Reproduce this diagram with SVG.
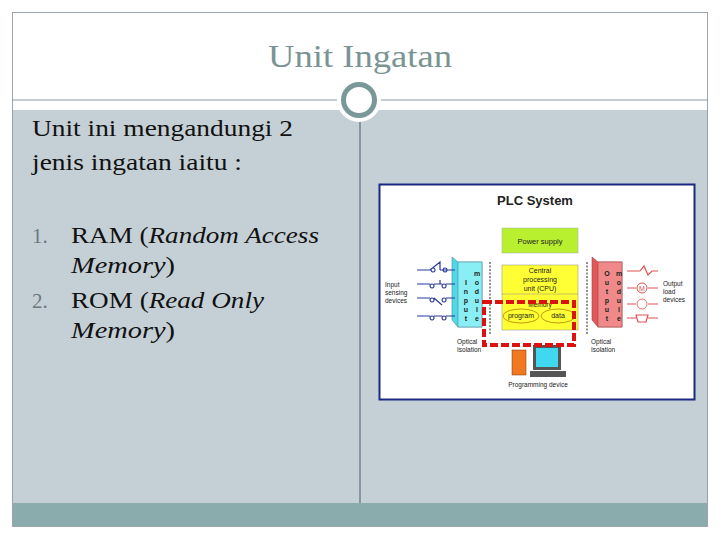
<svg xmlns="http://www.w3.org/2000/svg" width="720" height="540" viewBox="0 0 720 540">
<style>
.s{font-family:"Liberation Serif",serif;fill:#111}
.a{font-family:"Liberation Sans",Arial,sans-serif;fill:#222}
.w{stroke:#2a3a9a;stroke-width:1.2;fill:none}
.r{stroke:#e05050;stroke-width:1.2;fill:none}
</style>
<rect x="0" y="0" width="720" height="540" fill="#fff"/>
<rect x="12" y="110" width="696" height="393" fill="#c5d0d6"/>
<rect x="12" y="503" width="696" height="24" fill="#8aacac"/>
<rect x="12.5" y="12.5" width="695" height="514" fill="none" stroke="#9aa6aa"/>
<line x1="12" y1="100" x2="708" y2="100" stroke="#8a9aa0" stroke-width="1.2"/>
<line x1="360" y1="110" x2="360" y2="503" stroke="#4a5a70"/>
<circle cx="359" cy="100" r="22" fill="#fff"/>
<circle cx="359" cy="100" r="15.5" fill="#fff" stroke="#7a9898" stroke-width="5"/>
<text x="268" y="67" textLength="184" lengthAdjust="spacingAndGlyphs" font-family="Liberation Serif,serif" font-size="32" fill="#7a9494">Unit Ingatan</text>
<g id="text">
<text class="s" x="32" y="136" font-size="23" textLength="261" lengthAdjust="spacingAndGlyphs">Unit ini mengandungi 2</text>
<text class="s" x="32" y="170" font-size="23" textLength="210" lengthAdjust="spacingAndGlyphs">jenis ingatan iaitu :</text>
<text class="s" x="32" y="243" font-size="21" style="fill:#6a7a80">1.</text>
<text class="s" x="71" y="243" font-size="23" textLength="248" lengthAdjust="spacingAndGlyphs">RAM (<tspan font-style="italic">Random Access</tspan></text>
<text class="s" x="71" y="273" font-size="23" font-style="italic" textLength="104" lengthAdjust="spacingAndGlyphs">Memory<tspan font-style="normal">)</tspan></text>
<text class="s" x="32" y="308" font-size="21" style="fill:#6a7a80">2.</text>
<text class="s" x="71" y="308" font-size="23" textLength="193" lengthAdjust="spacingAndGlyphs">ROM (<tspan font-style="italic">Read Only</tspan></text>
<text class="s" x="71" y="338" font-size="23" font-style="italic" textLength="104" lengthAdjust="spacingAndGlyphs">Memory<tspan font-style="normal">)</tspan></text>
</g>
<g id="plc">
<rect x="379.5" y="184.5" width="315" height="215" fill="#fff" stroke="#1a2a80" stroke-width="2"/>
<text class="a" x="535" y="205" font-size="13" font-weight="bold" text-anchor="middle">PLC System</text>
<g id="power"><rect x="502" y="228" width="76" height="25" fill="#b8f030" stroke="#aaa" stroke-width="0.5"/>
<text class="a" x="540" y="244" font-size="7.5" text-anchor="middle">Power supply</text></g>
<g id="cpu"><rect x="502" y="265" width="76" height="65" fill="#ffff33" stroke="#888" stroke-width="0.5"/>
<line x1="502" y1="294" x2="578" y2="294" stroke="#888" stroke-width="0.5"/>
<text class="a" x="540" y="273" font-size="7" text-anchor="middle">Central</text>
<text class="a" x="540" y="282" font-size="7" text-anchor="middle">processing</text>
<text class="a" x="540" y="291" font-size="7" text-anchor="middle">unit (CPU)</text>
<text class="a" x="540" y="307" font-size="6.5" text-anchor="middle">Memory</text>
<ellipse cx="521" cy="316" rx="18" ry="7" fill="none" stroke="#b08000" stroke-width="0.8"/>
<ellipse cx="558" cy="316" rx="17" ry="7" fill="none" stroke="#b08000" stroke-width="0.8"/>
<text class="a" x="521" y="318" font-size="7" text-anchor="middle">program</text>
<text class="a" x="558" y="318" font-size="7" text-anchor="middle">data</text></g>
<g id="input"><polygon points="452,257 458,262 482,262 482,327 458,327 452,320" fill="#50d8e8" stroke="#4a8a9a" stroke-width="0.6"/>
<rect x="458" y="262" width="24" height="65" fill="#8aeef5" stroke="#4a8a9a" stroke-width="0.6"/>
<g class="a" font-size="7" font-weight="bold" text-anchor="middle">
<text x="466" y="285">I</text><text x="466" y="294">n</text><text x="466" y="303">p</text><text x="466" y="312">u</text><text x="466" y="321">t</text>
<text x="477" y="276">m</text><text x="477" y="285">o</text><text x="477" y="294">d</text><text x="477" y="303">u</text><text x="477" y="312">l</text><text x="477" y="321">e</text></g>
<path class="w" d="M417,270H430M430,270L440,262V270M440,270H455M433,268a2,2 0 1,0 0.1,0M445,268a2,2 0 1,0 0.1,0"/>
<path class="w" d="M417,284H430M434,284H442M446,284H455M432,284a2,2 0 1,0 0.1,0M444,284a2,2 0 1,0 0.1,0M440,280V284"/>
<path class="w" d="M417,298H430M434,298L442,305M446,298H455M432,298a2,2 0 1,0 0.1,0M444,298a2,2 0 1,0 0.1,0"/>
<path class="w" d="M417,316H430M434,316H442M446,316H455M432,316a2,2 0 1,0 0.1,0M444,316a2,2 0 1,0 0.1,0"/>
<text class="a" x="385" y="287" font-size="6.5">Input</text><text class="a" x="385" y="295" font-size="6.5">sensing</text><text class="a" x="385" y="303" font-size="6.5">devices</text>
<line x1="490" y1="262" x2="490" y2="335" stroke="#222" stroke-dasharray="2,1.5"/>
<text class="a" x="457" y="344" font-size="6.5">Optical</text><text class="a" x="457" y="352" font-size="6.5">Isolation</text></g>
<g id="output"><polygon points="592,257 598,262 622,262 622,327 598,327 592,320" fill="#e05858" stroke="#a04040" stroke-width="0.6"/>
<rect x="598" y="262" width="24" height="65" fill="#f08a8a" stroke="#a04040" stroke-width="0.6"/>
<g class="a" font-size="7" font-weight="bold" text-anchor="middle">
<text x="607" y="276">O</text><text x="607" y="285">u</text><text x="607" y="294">t</text><text x="607" y="303">p</text><text x="607" y="312">u</text><text x="607" y="321">t</text>
<text x="619" y="276">m</text><text x="619" y="285">o</text><text x="619" y="294">d</text><text x="619" y="303">u</text><text x="619" y="312">l</text><text x="619" y="321">e</text></g>
<path class="r" d="M627,271H640L644,266L648,275L652,271H658M627,288H636M648,288H658M627,304H636M648,304H658M627,318H636M648,318H658"/>
<circle cx="642" cy="288" r="5" fill="#fff" stroke="#e05050"/><text x="642" y="291" font-size="7" text-anchor="middle" font-family="Liberation Sans,sans-serif" fill="#e05050">M</text>
<circle cx="642" cy="304" r="5" fill="#fff" stroke="#e05050" stroke-width="0.8"/>
<path class="r" d="M636,315H648L646,322H638Z"/>
<text class="a" x="663" y="286" font-size="6.5">Output</text><text class="a" x="663" y="294" font-size="6.5">load</text><text class="a" x="663" y="302" font-size="6.5">devices</text>
<line x1="587" y1="262" x2="587" y2="335" stroke="#222" stroke-dasharray="2,1.5"/>
<text class="a" x="591" y="344" font-size="6.5">Optical</text><text class="a" x="591" y="352" font-size="6.5">Isolation</text></g>
<g id="progdev"><rect x="512" y="350" width="14" height="25" fill="#f07820" stroke="#803000" stroke-width="0.5"/>
<rect x="533" y="345" width="28" height="25" fill="#555"/><rect x="536" y="348" width="22" height="19" fill="#40d8f0"/>
<rect x="530" y="371" width="36" height="6" fill="#555"/>
<text class="a" x="538" y="387" font-size="6.5" text-anchor="middle">Programming device</text></g>
<rect x="484" y="302" width="90" height="43" fill="none" stroke="#dd1111" stroke-width="4" stroke-dasharray="8,3"/>
</g>
</svg>
